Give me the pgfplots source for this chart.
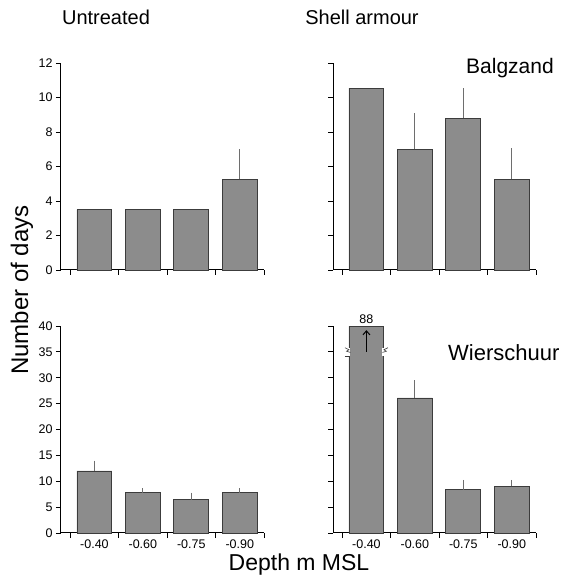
\documentclass[border=0pt]{standalone}
\usepackage{fontspec}
\setmainfont{Liberation Sans}
\usepackage{pgfplots}
\pgfplotsset{compat=1.18}
\usetikzlibrary{arrows.meta}
\definecolor{barfill}{RGB}{140,140,140}
\definecolor{baredge}{RGB}{60,60,60}
\definecolor{errcol}{RGB}{110,110,110}
\pgfplotsset{
  panel/.style={
    scale only axis, width=203pt, height=207pt, anchor=south west,
    axis lines*=left, axis line style={line width=1pt, black},
    xmin=-0.69, xmax=3.5, ymin=0,
    xtick={-0.5,0.5,1.5,2.5,3.5}, xticklabels={},
    tick align=outside, major tick length=5pt,
    tick style={line width=0.9pt, black},
    /pgf/number format/assume math mode=true,
    ticklabel style={font=\fontsize{12.5}{14}\selectfont},
    ybar, bar width=0.72, clip=false,
  },
  bars/.style={fill=barfill, draw=baredge, line width=0.8pt,
    error bars/.cd, y dir=plus, y explicit, error mark=none,
    error bar style={errcol, line width=0.8pt}},
  depthlabels/.style={
    extra x ticks={0,1,2,3},
    extra x tick labels={-0.40,-0.60,-0.75,-0.90},
    extra x tick style={major tick length=0pt, tick label style={yshift=-3pt}},
  },
}
\begin{document}
\begin{tikzpicture}[x=1pt,y=1pt]
\useasboundingbox (0,0) rectangle (569,581);
% Top-left: Untreated, Balgzand
\begin{axis}[panel, at={(61pt,311pt)}, ymax=12, ytick={0,2,...,12}]
\addplot[bars] coordinates {(0,3.5) +- (0,0) (1,3.5) +- (0,0) (2,3.5) +- (0,0) (3,5.25) +- (0,1.75)};
\end{axis}
% Top-right: Shell armour, Balgzand
\begin{axis}[panel, at={(333pt,311pt)}, ymax=12, ytick={0,2,...,12}, yticklabels={}]
\addplot[bars] coordinates {(0,10.55) +- (0,0) (1,7.0) +- (0,2.1) (2,8.8) +- (0,1.75) (3,5.25) +- (0,1.8)};
\end{axis}
% Bottom-left: Untreated, Wierschuur
\begin{axis}[panel, depthlabels, at={(61pt,48pt)}, ymax=40, ytick={0,5,...,40}]
\addplot[bars] coordinates {(0,12) +- (0,2) (1,7.75) +- (0,0.85) (2,6.4) +- (0,1.4) (3,7.75) +- (0,0.85)};
\end{axis}
% Bottom-right: Shell armour, Wierschuur
\begin{axis}[panel, depthlabels, at={(333pt,48pt)}, ymax=40, ytick={0,5,...,40}, yticklabels={}]
\addplot[bars] coordinates {(0,40) +- (0,0) (1,26.1) +- (0,3.4) (2,8.4) +- (0,1.85) (3,9.0) +- (0,1.25)};
% break marks on the first bar
\fill[white] ([xshift=-1.5pt]axis cs:-0.36,34.2) rectangle ([xshift=1.5pt]axis cs:-0.36,35.8);
\fill[white] ([xshift=-1.5pt]axis cs:0.36,34.2) rectangle ([xshift=1.5pt]axis cs:0.36,35.8);
\draw[baredge, line width=0.6pt] ([xshift=-4pt]axis cs:-0.36,35.8) -- ++(4pt,-2pt) -- ++(-2.5pt,-1.5pt) -- ++(4pt,-1.2pt);
\draw[baredge, line width=0.6pt] ([xshift=-4pt]axis cs:-0.36,34.2) -- ++(5pt,0pt);
\draw[baredge, line width=0.6pt] ([xshift=4pt]axis cs:0.36,35.8) -- ++(-4pt,-2pt) -- ++(2.5pt,-1.5pt) -- ++(-4pt,-1.2pt);
\draw[black, line width=1pt, -{Straight Barb[length=4pt,width=7pt]}] (axis cs:0,35) -- (axis cs:0,39.2);
\node[font=\fontsize{12.5}{14}\selectfont, above, inner sep=2pt] at (axis cs:0,40) {88};
\end{axis}
% Texts
\node[font=\fontsize{20}{24}\selectfont] at (106,564) {Untreated};
\node[font=\fontsize{20}{24}\selectfont] at (362,564) {Shell armour};
\node[font=\fontsize{21}{24}\selectfont, anchor=west, inner sep=0pt] at (466,513) {Balgzand};
\node[font=\fontsize{22}{24}\selectfont, anchor=west, inner sep=0pt] at (448,228) {Wierschuur};
\node[font=\fontsize{24}{28}\selectfont, rotate=90] at (22,291) {Number of days};
\node[font=\fontsize{23}{28}\selectfont] at (299,16) {Depth m MSL};
\end{tikzpicture}
\end{document}
